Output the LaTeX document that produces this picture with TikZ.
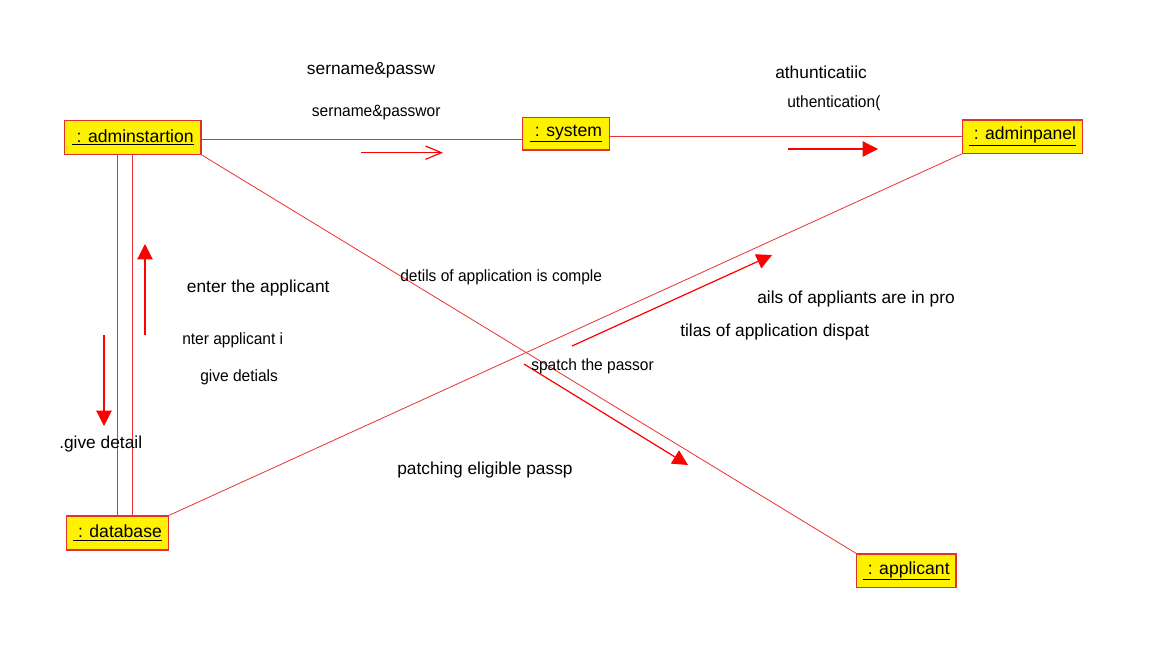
\documentclass[tikz,border=0pt]{standalone}
\usepackage{fontspec}
\setmainfont{Liberation Sans}
\newfontfamily\narrowfont[FakeStretch=0.95]{Liberation Sans}
\usetikzlibrary{arrows.meta}
\definecolor{boxborder}{RGB}{224,48,48}
\definecolor{linkred}{RGB}{235,50,50}
\begin{document}
\begin{tikzpicture}[x=0.75pt,y=-0.75pt,
  obj/.style={draw=boxborder, fill=yellow, line width=0.9pt, inner sep=0pt,
    font=\fontsize{13.2}{15}\selectfont, anchor=center},
  link/.style={draw=linkred, line width=0.6pt},
  msg/.style={draw=red, line width=0.9pt},
  filledtip/.style={-{Triangle[length=11.5pt,width=11.5pt]}, fill=red},
  opentip/.style={-{Straight Barb[length=12pt,width=10pt]}},
  lbl/.style={anchor=west, inner sep=0pt, font=\fontsize{13}{15}\selectfont},
  nlbl/.style={anchor=west, inner sep=0pt, font=\narrowfont\fontsize{12.25}{14}\selectfont}]
\useasboundingbox[fill=white] (0,0) rectangle (1161,647);

% objects
\node[obj, minimum width=102.5pt, minimum height=25.2pt] (adm) at (132.7,137.5) {\underline{\ : adminstartion}};
\node[obj, minimum width=65.6pt, minimum height=24.5pt] (sys) at (566,133.7) {\underline{\ : system}};
\node[obj, minimum width=90.3pt, minimum height=25pt] (ap) at (1022.5,136.7) {\underline{\ : adminpanel}};
\node[obj, minimum width=76.3pt, minimum height=25.5pt] (db) at (117.5,533) {\underline{\ : database}};
\node[obj, minimum width=74.5pt, minimum height=25.3pt] (app) at (906.3,570.8) {\underline{\ : applicant}};

% helper coordinates for links
\coordinate (ya) at (0,139.3);
\coordinate (yb) at (0,136.7);
\coordinate (xa) at (117.3,0);
\coordinate (xb) at (132.3,0);

% links
\draw[link] (adm.east |- ya) -- (sys.west |- ya);
\draw[link] (sys.east |- yb) -- (ap.west |- yb);
\draw[link] (adm.south -| xa) -- (db.north -| xa);
\draw[link] (adm.south -| xb) -- (db.north -| xb);
\draw[link] (adm.south east) -- (app.north west);
\draw[link] (db.north east) -- (ap.south west);

% message arrows
\coordinate (m1s) at (361,152.7); \coordinate (m1e) at (443,152.7);
\coordinate (m2s) at (788,149);   \coordinate (m2e) at (878,149);
\coordinate (m3s) at (145,335);   \coordinate (m3e) at (145,244);
\coordinate (m4s) at (104,335);   \coordinate (m4e) at (104,426);
\coordinate (m5s) at (572,346);   \coordinate (m5e) at (772,255);
\coordinate (m6s) at (524,364);   \coordinate (m6e) at (688,465);
\draw[msg, opentip] (m1s) -- (m1e);
\draw[msg, filledtip] (m2s) -- (m2e);
\draw[msg, filledtip] (m3s) -- (m3e);
\draw[msg, filledtip] (m4s) -- (m4e);
\draw[msg, filledtip] (m5s) -- (m5e);
\draw[msg, filledtip] (m6s) -- (m6e);

% labels
\node[lbl]  (l1)  at (306.7,70)   {sername\&passw};
\node[nlbl] (l2)  at (311.7,112.7){sername\&passwor};
\node[lbl]  (l3)  at (775,72)     {athunticatiic};
\node[nlbl] (l4)  at (787,103)    {uthentication(};
\node[lbl]  (l5)  at (186.7,288)  {enter the applicant};
\node[nlbl] (l6)  at (182,340.7)  {nter applicant i};
\node[nlbl] (l7)  at (200,377.7)  {give detials};
\node[lbl]  (l8)  at (59,444)     {.give detail};
\node[nlbl] (l9)  at (400,277)    {detils of application is comple};
\node[lbl]  (l10) at (757,299)    {ails of appliants are in pro};
\node[lbl]  (l11) at (680,332)    {tilas of application dispat};
\node[nlbl] (l12) at (531,366)    {spatch the passor};
\node[lbl]  (l13) at (397,470)    {patching eligible passp};
\end{tikzpicture}
\end{document}
